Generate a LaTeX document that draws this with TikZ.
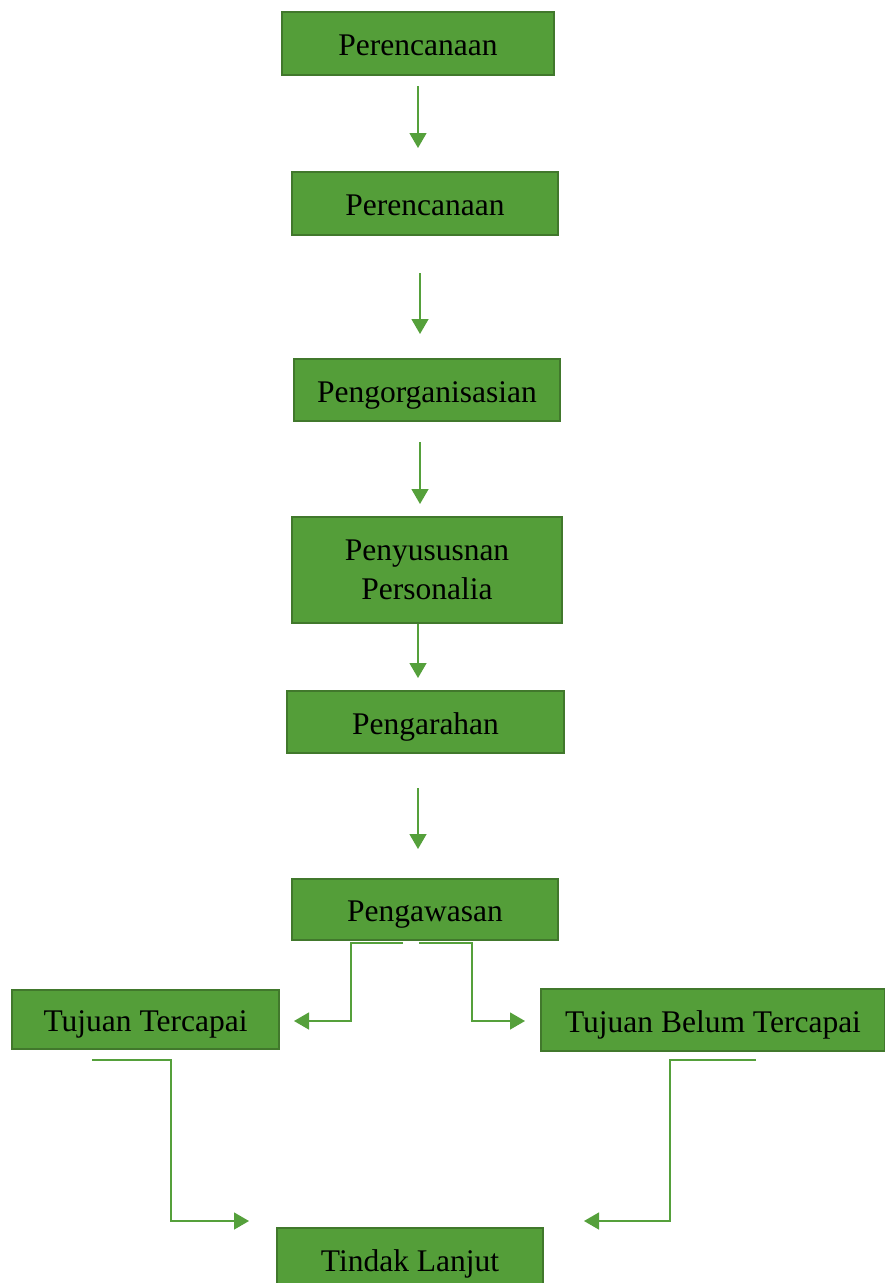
\documentclass[tikz,border=0pt]{standalone}
\usepackage{fontspec}
\setmainfont{Liberation Serif}
\usetikzlibrary{arrows.meta}
\definecolor{boxfill}{HTML}{549E39}
\definecolor{boxline}{HTML}{41782C}
\definecolor{linkc}{HTML}{55A03B}
\tikzset{
  box/.style={draw=boxline, line width=2.4pt, fill=boxfill, text=black, inner sep=0pt, align=center,
    font=\fontsize{31.5}{39}\selectfont},
  onebox/.style={box, text height=30pt, text depth=6pt},
  link/.style={draw=linkc, line width=1.4pt, -{Triangle[length=15pt,width=17pt]}}
}
\begin{document}
\begin{tikzpicture}[x=1pt,y=-1pt]
\useasboundingbox (0,0) rectangle (884,1283);
\node[onebox, minimum width=272pt, minimum height=63pt] (n1) at (418,43.5) {Perencanaan};
\node[onebox, minimum width=266pt, minimum height=63pt] (n2) at (425,203.5) {Perencanaan};
\node[onebox, minimum width=266pt, minimum height=62pt] (n3) at (427,390) {Pengorganisasian};
\node[box, minimum width=270pt, minimum height=106pt] (n4) at (427,570) {Penyususnan\\Personalia};
\node[onebox, minimum width=277pt, minimum height=62pt] (n5) at (425.5,722) {Pengarahan};
\node[onebox, minimum width=266pt, minimum height=61pt] (n6) at (425,909.5) {Pengawasan};
\node[onebox, minimum width=267pt, minimum height=59pt] (n7) at (145.5,1019.5) {Tujuan Tercapai};
\node[onebox, minimum width=344pt, minimum height=62pt] (n8) at (713,1020) {Tujuan Belum Tercapai};
\node[onebox, minimum width=266pt, minimum height=62pt] (n9) at (410,1259) {Tindak Lanjut};
% vertical arrows
\coordinate (a1s) at (418,86);  \coordinate (a1e) at (418,148);
\coordinate (a2s) at (420,273); \coordinate (a2e) at (420,334);
\coordinate (a3s) at (420,442); \coordinate (a3e) at (420,504);
\coordinate (a4e) at (418,678);
\coordinate (a5s) at (418,788); \coordinate (a5e) at (418,849);
\draw[link] (a1s) -- (a1e);
\draw[link] (a2s) -- (a2e);
\draw[link] (a3s) -- (a3e);
\draw[link] (n4.south -| a4e) -- (a4e);
\draw[link] (a5s) -- (a5e);
% branches from Pengawasan
\coordinate (bls) at (403,943); \coordinate (ble) at (294,1021);
\coordinate (brs) at (419,943); \coordinate (bre) at (525,1021);
\draw[link] (bls) -- (351,943) -- (351,1021) -- (ble);
\draw[link] (brs) -- (472,943) -- (472,1021) -- (bre);
% to Tindak Lanjut
\coordinate (cls) at (92,1060);  \coordinate (cle) at (249,1221);
\coordinate (crs) at (756,1060); \coordinate (cre) at (584,1221);
\draw[link] (cls) -- (171,1060) -- (171,1221) -- (cle);
\draw[link] (crs) -- (670,1060) -- (670,1221) -- (cre);
\end{tikzpicture}
\end{document}
